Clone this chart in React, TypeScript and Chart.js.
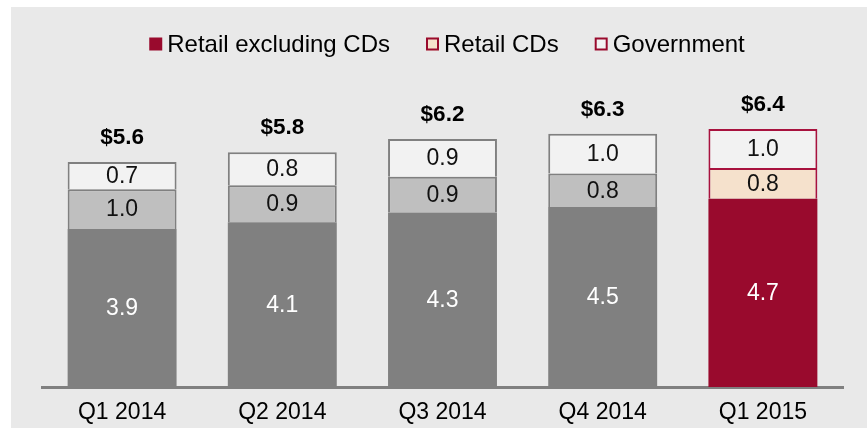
import React, { useEffect, useRef } from 'react';
import { Chart, registerables } from 'chart.js';

Chart.register(...registerables);

const categories = ['Q1 2014', 'Q2 2014', 'Q3 2014', 'Q4 2014', 'Q1 2015'];
const retailExCDs = [3.93, 4.1, 4.34, 4.48, 4.68];
const retailCDs = [0.99, 0.92, 0.89, 0.83, 0.77];
const government = [0.68, 0.82, 0.94, 0.99, 0.97];
const seriesNames = ['Retail excluding CDs', 'Retail CDs', 'Government'];
const highlightIndex = 4;
const yMax = 8;

const FONT = '"Liberation Sans", Arial, sans-serif';
const MAROON = '#990a2d';
const MAROON_BORDER = '#a8123e';
const PEACH = '#f5e1cc';
const LIGHT = '#f2f2f2';
const MID = '#bfbfbf';
const DARK = '#808080';

const perBar = (normal: string, hi: string) =>
  categories.map((_, i) => (i === highlightIndex ? hi : normal));

const bgPlugin = {
  id: 'bg',
  beforeDraw(chart: any) {
    const ctx = chart.ctx;
    ctx.save();
    ctx.fillStyle = '#e9e9e9';
    ctx.fillRect(11, 7, chart.width - 11, chart.height - 7);
    ctx.restore();
  },
};

const legendPlugin = {
  id: 'customLegend',
  afterDraw(chart: any) {
    const ctx = chart.ctx;
    ctx.save();
    ctx.font = `24px ${FONT}`;
    const box = 13;
    const gapText = 5;
    const gapItem = 36;
    const widths = seriesNames.map((n) => ctx.measureText(n).width);
    const total =
      widths.reduce((a, b) => a + b, 0) + seriesNames.length * (box + gapText) + gapItem * (seriesNames.length - 1);
    let x = 447 - total / 2;
    const cy = 44;
    const fills = [MAROON, PEACH, LIGHT];
    seriesNames.forEach((n, i) => {
      ctx.fillStyle = fills[i];
      ctx.fillRect(x, cy - box / 2, box, box);
      if (i > 0) {
        ctx.strokeStyle = MAROON;
        ctx.lineWidth = 2;
        ctx.strokeRect(x + 1, cy - box / 2 + 1, box - 2, box - 2);
      }
      ctx.fillStyle = '#000';
      ctx.textBaseline = 'middle';
      ctx.textAlign = 'left';
      ctx.fillText(n, x + box + gapText, cy + 1);
      x += box + gapText + widths[i] + gapItem;
    });
    ctx.restore();
  },
};

const labelsPlugin = {
  id: 'valueLabels',
  afterDatasetsDraw(chart: any) {
    const ctx = chart.ctx;
    ctx.save();
    ctx.textAlign = 'center';
    ctx.textBaseline = 'middle';
    const n = chart.data.datasets.length;
    chart.data.datasets.forEach((ds: any, di: number) => {
      const meta = chart.getDatasetMeta(di);
      meta.data.forEach((bar: any, i: number) => {
        const v = ds.data[i] as number;
        const cy = (bar.y + bar.base) / 2;
        ctx.font = `23px ${FONT}`;
        ctx.fillStyle = di === 0 ? '#ffffff' : '#111111';
        ctx.fillText(v.toFixed(1), bar.x, cy + 1);
        if (di === n - 1) {
          const sum = chart.data.datasets.reduce((a: number, d: any) => a + (d.data[i] as number), 0);
          ctx.font = `bold 22.5px ${FONT}`;
          ctx.fillStyle = '#000';
          ctx.fillText('$' + sum.toFixed(1), bar.x, bar.y - 24);
        }
      });
    });
    ctx.restore();
  },
};

export default function App() {
  const ref = useRef<HTMLCanvasElement | null>(null);
  useEffect(() => {
    if (!ref.current) return;
    const chart = new Chart(ref.current, {
      type: 'bar',
      data: {
        labels: categories,
        datasets: [
          {
            label: seriesNames[0],
            data: retailExCDs,
            backgroundColor: perBar(DARK, MAROON),
            borderColor: perBar(DARK, MAROON_BORDER),
            borderWidth: 0,
          },
          {
            label: seriesNames[1],
            data: retailCDs,
            backgroundColor: perBar(MID, PEACH),
            borderColor: perBar(DARK, MAROON_BORDER),
            borderWidth: 2,
            borderSkipped: 'start',
          },
          {
            label: seriesNames[2],
            data: government,
            backgroundColor: perBar(LIGHT, LIGHT),
            borderColor: perBar(DARK, MAROON_BORDER),
            borderWidth: 2,
            borderSkipped: 'start',
          },
        ],
      },
      options: {
        animation: false,
        responsive: false,
        devicePixelRatio: 1,
        layout: { padding: { top: 65.4, left: 42, right: 24, bottom: 0 } },
        datasets: { bar: { categoryPercentage: 1, barPercentage: 0.68 } },
        plugins: { legend: { display: false }, tooltip: { enabled: false } },
        scales: {
          x: {
            stacked: true,
            grid: { display: false, drawTicks: false },
            border: { display: true, color: DARK, width: 3 },
            ticks: { color: '#000', font: { family: FONT, size: 23 }, padding: 12 },
            afterFit: (scale: any) => {
              scale.height = 41;
            },
          },
          y: { stacked: true, display: false, min: 0, max: yMax },
        },
      },
      plugins: [bgPlugin, legendPlugin, labelsPlugin],
    });
    return () => chart.destroy();
  }, []);
  return (
    <div style={{ position: 'fixed', left: 0, top: 0, width: 867, height: 428 }}>
      <canvas ref={ref} width={867} height={428} />
    </div>
  );
}
